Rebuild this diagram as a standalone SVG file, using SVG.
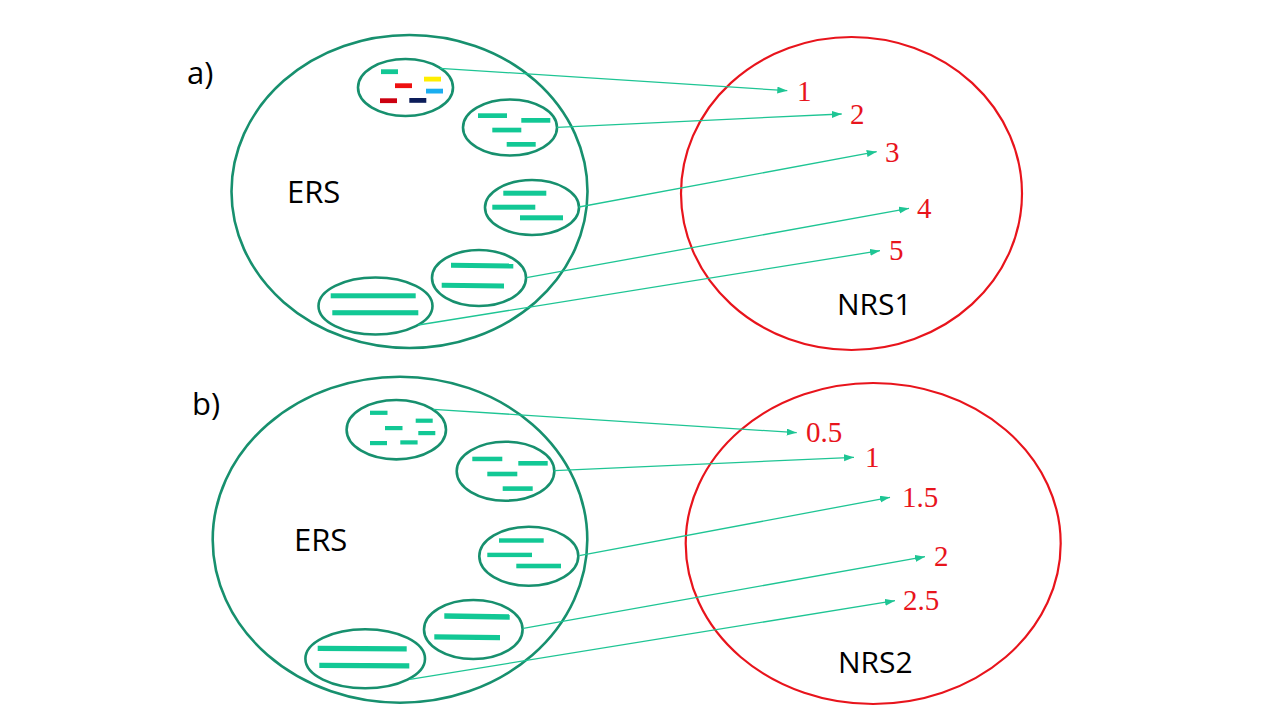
<svg xmlns="http://www.w3.org/2000/svg" width="1280" height="720" viewBox="0 0 1280 720">
<defs>
<style>
.big{fill:none;stroke:#17906e;stroke-width:2.6}
.sm{fill:none;stroke:#17906e;stroke-width:2.6}
.nrs{fill:none;stroke:#e8141c;stroke-width:2.2}
.bar{fill:#12c895}
.conn{fill:none;stroke:#1ec594;stroke-width:1.3}
.lbl{font-family:"Open Sans","Liberation Sans",sans-serif;fill:#000}
.num{font-family:"Liberation Serif","Times New Roman",serif;font-size:29px;fill:#e8141c}
</style>
<marker id="arr" markerUnits="userSpaceOnUse" markerWidth="11" markerHeight="8" refX="10" refY="3.5" orient="auto">
<path d="M0,0 L10,3.5 L0,7 Z" fill="#1ec594"/>
</marker>
</defs>
<rect width="1280" height="720" fill="#fff"/>

<!-- Part a -->
<text class="lbl" x="187" y="84" font-size="31">a)</text>
<g id="ers-a">
<ellipse class="big" cx="409.5" cy="191.5" rx="178" ry="156.5"/>
<text class="lbl" x="287" y="203" font-size="31">ERS</text>
</g>
<g id="a-e1">
<ellipse class="sm" cx="405.5" cy="87.5" rx="47.5" ry="28.5"/>
<rect x="381" y="69.3" width="17" height="4.8" fill="#12c895"/>
<rect x="395" y="83.3" width="17" height="4.8" fill="#ee1010"/>
<rect x="424" y="76.7" width="17" height="4.8" fill="#ffee00"/>
<rect x="426" y="88.7" width="17" height="4.8" fill="#1aaef0"/>
<rect x="380" y="98.3" width="17" height="4.8" fill="#cc0010"/>
<rect x="409.3" y="98" width="17" height="4.8" fill="#0c1d5a"/>
</g>
<g id="a-e2">
<ellipse class="sm" cx="510" cy="127.5" rx="47" ry="28"/>
<rect class="bar" x="478" y="113.3" width="29" height="4.7"/>
<rect class="bar" x="521.3" y="118" width="29" height="4.7"/>
<rect class="bar" x="492.3" y="127.7" width="29" height="4.7"/>
<rect class="bar" x="506.7" y="142" width="29" height="4.7"/>
</g>
<g id="a-e3">
<ellipse class="sm" cx="532" cy="207.5" rx="47" ry="27.5"/>
<rect class="bar" x="503.3" y="190.7" width="43" height="5"/>
<rect class="bar" x="492.3" y="204.7" width="43" height="5"/>
<rect class="bar" x="520" y="215.3" width="43" height="5"/>
</g>
<g id="a-e4">
<ellipse class="sm" cx="479" cy="278" rx="47" ry="28"/>
<polygon class="bar" points="451,262.7 513.3,263.5 513.3,268.5 451,267.7"/>
<polygon class="bar" points="441.7,282.7 504,283.5 504,288.5 441.7,287.7"/>
</g>
<g id="a-e5">
<ellipse class="sm" cx="375.5" cy="306" rx="57" ry="28.5"/>
<rect class="bar" x="330.7" y="293.3" width="85" height="5"/>
<rect class="bar" x="332.3" y="310.2" width="86" height="5.1"/>
</g>
<g id="nrs1">
<ellipse class="nrs" cx="851.5" cy="193.5" rx="170.5" ry="156.5"/>
<text class="lbl" x="837" y="315" font-size="30">NRS1</text>
<text class="num" x="797" y="101">1</text>
<text class="num" x="850" y="124">2</text>
<text class="num" x="885" y="162">3</text>
<text class="num" x="917" y="218">4</text>
<text class="num" x="889" y="260">5</text>
</g>
<g id="connectors-a">
<path class="conn" d="M440,68.3 L787.3,90.7" marker-end="url(#arr)"/>
<path class="conn" d="M557,127.3 L841.7,114" marker-end="url(#arr)"/>
<path class="conn" d="M579,207 L876.7,151.7" marker-end="url(#arr)"/>
<path class="conn" d="M526.5,277.7 L909,208.3" marker-end="url(#arr)"/>
<path class="conn" d="M418.3,325 L880,250.7" marker-end="url(#arr)"/>
</g>

<!-- Part b -->
<text class="lbl" x="192" y="415" font-size="31">b)</text>
<g id="ers-b">
<ellipse class="big" cx="400" cy="539.7" rx="187.3" ry="163"/>
<text class="lbl" x="294" y="551" font-size="31">ERS</text>
</g>
<g id="b-e1">
<ellipse class="sm" cx="396.3" cy="429.7" rx="49.7" ry="29.7"/>
<rect class="bar" x="370" y="410.7" width="17.5" height="4.2"/>
<rect class="bar" x="415.7" y="418.6" width="17" height="4.2"/>
<rect class="bar" x="385" y="426" width="17.5" height="4.2"/>
<rect class="bar" x="418.3" y="431" width="17" height="4.2"/>
<rect class="bar" x="370" y="441" width="17" height="4.2"/>
<rect class="bar" x="400.3" y="440.3" width="17.3" height="4.2"/>
</g>
<g id="b-e2">
<ellipse class="sm" cx="505.5" cy="471.2" rx="48.8" ry="29.5"/>
<rect class="bar" x="472.3" y="456.7" width="30" height="4.5"/>
<rect class="bar" x="518.3" y="461" width="29.4" height="4.6"/>
<rect class="bar" x="487.3" y="471.7" width="30" height="4.6"/>
<rect class="bar" x="502.7" y="486.3" width="30" height="4.6"/>
</g>
<g id="b-e3">
<ellipse class="sm" cx="528.8" cy="556.2" rx="49.5" ry="29.5"/>
<rect class="bar" x="499" y="538.3" width="44.7" height="4.4"/>
<rect class="bar" x="487.3" y="552.7" width="44.7" height="4.4"/>
<rect class="bar" x="516.3" y="563.7" width="44.7" height="4.6"/>
</g>
<g id="b-e4">
<ellipse class="sm" cx="473.3" cy="629.5" rx="49.3" ry="29.5"/>
<polygon class="bar" points="444.3,613.3 509.7,614.2 509.7,619.7 444.3,618.8"/>
<polygon class="bar" points="434.3,634.3 500,635 500,640.2 434.3,639.5"/>
</g>
<g id="b-e5">
<ellipse class="sm" cx="365.2" cy="658.8" rx="59.8" ry="29.5"/>
<polygon class="bar" points="317.7,645.7 406.7,646.3 406.7,651.5 317.7,650.9"/>
<polygon class="bar" points="319.3,662.7 409.3,663.3 409.3,668.6 319.3,668"/>
</g>
<g id="nrs2">
<ellipse class="nrs" cx="873.2" cy="543.5" rx="187.5" ry="160.5"/>
<text class="lbl" x="838" y="673" font-size="30">NRS2</text>
<text class="num" x="806" y="442">0.5</text>
<text class="num" x="865" y="467">1</text>
<text class="num" x="902" y="507">1.5</text>
<text class="num" x="934" y="566">2</text>
<text class="num" x="903" y="610">2.5</text>
</g>
<g id="connectors-b">
<path class="conn" d="M433.3,409.3 L796.7,432.7" marker-end="url(#arr)"/>
<path class="conn" d="M554.3,470.7 L854,457.3" marker-end="url(#arr)"/>
<path class="conn" d="M579.3,555.7 L890,497.3" marker-end="url(#arr)"/>
<path class="conn" d="M523.3,628.3 L925,556.7" marker-end="url(#arr)"/>
<path class="conn" d="M410,679.3 L895,600.7" marker-end="url(#arr)"/>
</g>
</svg>
